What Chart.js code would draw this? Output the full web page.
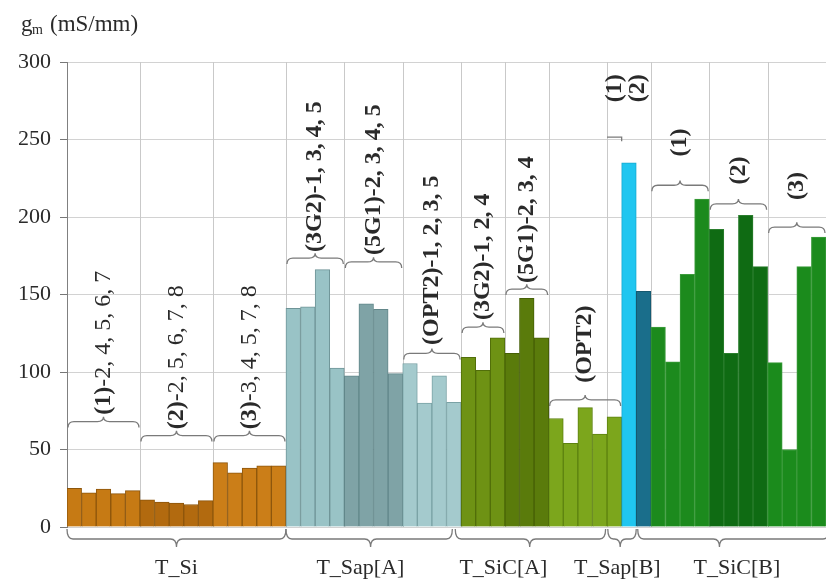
<!DOCTYPE html>
<html lang="en">
<head>
<meta charset="UTF-8">
<title>gm by substrate</title>
<script src="https://cdn.jsdelivr.net/npm/chart.js"></script>
<style>
  html, body { margin: 0; padding: 0; background: #fff; }
  .wrap { width: 826px; height: 587px; position: relative; }
</style>
</head>
<body>
<div class="wrap"><canvas id="gmChart"></canvas></div>
<script>
// measured gm per device, left to right, one array per substrate
const siValues   = [25, 22, 24.5, 21.5, 23.5, 17.5, 16, 15.5, 14.5, 17, 41.5, 35, 38, 39.5, 39.5];
const sapAValues = [141, 142, 166, 102.5, 97.5, 144, 140.5, 99, 105.5, 80, 97.5, 80.5];
const sicAValues = [109.5, 101, 122, 112, 147.5, 122, 70, 54, 77, 60, 71];
const sapBValues = [235, 152];
const sicBValues = [129, 106.5, 163, 211.5, 192, 112, 201, 168, 106, 50, 168, 187];

const groupNames = ['T_Si', 'T_Sap[A]', 'T_SiC[A]', 'T_Sap[B]', 'T_SiC[B]'];
const yTicks = [0, 50, 100, 150, 200, 250, 300];

// subgroup captions: bold prefix + device list
const subLabels = [
  ['(1)', '-2, 4, 5, 6, 7'], ['(2)', '-2, 5, 6, 7, 8'], ['(3)', '-3, 4, 5, 7, 8'],
  ['(3G2)', '-1, 3, 4, 5'], ['(5G1)', '-2, 3, 4, 5'], ['(OPT2)', '-1, 2, 3, 5'],
  ['(3G2)', '-1, 2, 4'], ['(5G1)', '-2, 3, 4'], ['(OPT2)', ''],
  ['(1)', ''], ['(2)', ''],
  ['(1)', ''], ['(2)', ''], ['(3)', '']
];

// device tags for the category axis
const subDevices = [
  [2, 4, 5, 6, 7], [2, 5, 6, 7, 8], [3, 4, 5, 7, 8],
  [1, 3, 4, 5], [2, 3, 4, 5], [1, 2, 3, 5],
  [1, 2, 4], [2, 3, 4], [1, 2, 3, 4, 5],
  [1], [1],
  [1, 2, 3, 4], [1, 2, 3, 4], [1, 2, 3, 4]
];
const subGroupOf = [0, 0, 0, 1, 1, 1, 2, 2, 2, 3, 3, 4, 4, 4];

// layout of braces/captions: x in bar-index units, y in mS/mm
const subLayout = [
  { from: 0,  to: 5,  brace: 68,    text: 72.5,  cx: 2.5 },
  { from: 5,  to: 10, brace: 59,    text: 63,    cx: 7.5 },
  { from: 10, to: 15, brace: 59,    text: 63,    cx: 12.5 },
  { from: 15, to: 19, brace: 173.5, text: 177.5, cx: 17 },
  { from: 19, to: 23, brace: 171,   text: 175.5, cx: 21 },
  { from: 23, to: 27, brace: 112,   text: 117.5, cx: 25 },
  { from: 27, to: 30, brace: 129,   text: 133.5, cx: 28.5 },
  { from: 30, to: 33, brace: 153.5, text: 157.5, cx: 31.5 },
  { from: 33, to: 38, brace: 82,    text: 93,    cx: 35.5 },
  { from: 37, to: 38, brace: 251.5, text: 274,   cx: 37.5, half: true },
  { from: 37, to: 38, brace: null,  text: 274,   cx: 39.1 },
  { from: 40, to: 44, brace: 220.5, text: 239,   cx: 42 },
  { from: 44, to: 48, brace: 208.5, text: 221,   cx: 46 },
  { from: 48, to: 52, brace: 193.5, text: 211,   cx: 50 }
];
const groupLayout = [
  { from: 0,    to: 15,   tip: 7.5,  cx: 7.5 },
  { from: 15,   to: 26.4, tip: 20.8, cx: 20.1 },
  { from: 26.6, to: 36.9, tip: 31.7, cx: 29.9 },
  { from: 37.05, to: 39,  tip: 37.9, cx: 37.7 },
  { from: 39.1, to: 52.2, tip: 44.7, cx: 45.9 }
];
const separators = [5, 10, 15, 19, 23, 27, 30, 33, 37, 40, 44, 48];

const subFill = [
  '#c67a14', '#b26a0f', '#cb7e18',
  '#99c3c6', '#7fa3a6', '#a4cacd',
  '#6e9214', '#5a7b0b', '#7ca61c',
  '#20c6f0', '#1a6e8b',
  '#1c8a1d', '#0f6b13', '#1b8b1c'
];
const subEdge = [
  '#8d560c', '#8d560c', '#8d560c',
  '#6f9497', '#62878a', '#7aa2a5',
  '#516e0a', '#465f06', '#5d8210',
  '#17a8cf', '#15586f',
  '#3d9c3d', '#2b7e2e', '#3d9c3d'
];

const values = [].concat(siValues, sapAValues, sicAValues, sapBValues, sicBValues);
const categories = [], fills = [], edges = [];
subDevices.forEach((devs, s) => {
  devs.forEach(d => {
    categories.push(groupNames[subGroupOf[s]] + subLabels[s][0] + d);
    fills.push(subFill[s]);
    edges.push(subEdge[s]);
  });
});

const SERIF = '"Liberation Serif", "DejaVu Serif", serif';
const INK = '#2a2a2a';

function brace(ctx, x1, x2, xm, y, h, dir) {
  // dir = 1: ends bend down, tip points up
  const r = Math.min(6, (x2 - x1) / 5);
  ctx.beginPath();
  ctx.moveTo(x1, y + dir * h);
  ctx.quadraticCurveTo(x1, y, x1 + r, y);
  ctx.lineTo(xm - r, y);
  ctx.quadraticCurveTo(xm, y, xm, y - dir * h * 0.8);
  ctx.quadraticCurveTo(xm, y, xm + r, y);
  ctx.lineTo(x2 - r, y);
  ctx.quadraticCurveTo(x2, y, x2, y + dir * h);
  ctx.stroke();
}

const decorations = {
  id: 'decorations',
  beforeDatasetsDraw(chart) {
    const { ctx, chartArea, scales: { x } } = chart;
    ctx.save();
    ctx.strokeStyle = '#c9c9c9';
    ctx.lineWidth = 1;
    separators.forEach(b => {
      const px = Math.round(x.getPixelForValue(b - 0.5)) + 0.5;
      ctx.beginPath();
      ctx.moveTo(px, chartArea.top);
      ctx.lineTo(px, chartArea.bottom);
      ctx.stroke();
    });
    ctx.restore();
  },
  afterDatasetsDraw(chart) {
    const { ctx, chartArea, scales: { x, y } } = chart;
    const edge = b => x.getPixelForValue(b - 0.5);
    ctx.save();
    ctx.strokeStyle = '#7a7a7a';
    ctx.lineWidth = 1.3;
    ctx.fillStyle = INK;

    // subgroup braces and rotated captions
    subLayout.forEach((L, i) => {
      if (L.brace !== null) {
        const py = y.getPixelForValue(L.brace);
        if (L.half) {
          ctx.beginPath();
          ctx.moveTo(edge(L.from), py);
          ctx.lineTo(edge(L.to), py);
          ctx.lineTo(edge(L.to), py + 4);
          ctx.stroke();
        } else {
          brace(ctx, edge(L.from) + 1, edge(L.to) - 1,
                x.getPixelForValue(L.cx - 0.5), py, 6, 1);
        }
      }
      const [bold, rest] = subLabels[i];
      ctx.save();
      ctx.translate(x.getPixelForValue(L.cx - 0.5), y.getPixelForValue(L.text));
      ctx.rotate(-Math.PI / 2);
      ctx.textAlign = 'left';
      ctx.textBaseline = 'middle';
      ctx.font = 'bold 24px ' + SERIF;
      ctx.fillText(bold, 0, 0);
      const w = ctx.measureText(bold).width;
      // T_Si device lists are set in regular weight
      ctx.font = (subGroupOf[i] === 0 ? '' : 'bold ') + '24px ' + SERIF;
      ctx.fillText(rest, w, 0);
      ctx.restore();
    });

    // substrate braces under the axis
    const base = chartArea.bottom;
    groupLayout.forEach((G, i) => {
      brace(ctx, edge(G.from), edge(G.to), edge(G.tip), base + 12, 10, -1);
      ctx.font = '22px ' + SERIF;
      ctx.textAlign = 'center';
      ctx.textBaseline = 'alphabetic';
      ctx.fillText(groupNames[i], edge(G.cx), base + 47);
    });

    // axis title g_m (mS/mm)
    ctx.textAlign = 'left';
    ctx.font = '23px ' + SERIF;
    ctx.fillText('g', 21, 31);
    ctx.font = '14px ' + SERIF;
    ctx.fillText('m', 32, 34);
    ctx.font = '23px ' + SERIF;
    ctx.fillText('(mS/mm)', 50, 31);
    ctx.restore();
  }
};

new Chart(document.getElementById('gmChart'), {
  type: 'bar',
  data: {
    labels: categories,
    datasets: [{
      data: values,
      backgroundColor: fills,
      borderColor: edges,
      borderWidth: 1,
      barPercentage: 1,
      categoryPercentage: 1
    }]
  },
  options: {
    responsive: true,
    maintainAspectRatio: false,
    animation: false,
    layout: { padding: { top: 62, bottom: 60, left: 0, right: 0 } },
    plugins: { legend: { display: false }, tooltip: { enabled: false } },
    scales: {
      x: { display: false },
      y: {
        min: 0,
        max: 300,
        afterBuildTicks: s => { s.ticks = yTicks.map(v => ({ value: v })); },
        afterFit: s => { s.width = 67; },
        grid: { color: '#d2d2d2', tickColor: '#777', tickLength: 7 },
        border: { color: '#808080' },
        ticks: { color: INK, padding: 9, font: { family: SERIF, size: 22 } }
      }
    }
  },
  plugins: [decorations]
});
</script>
</body>
</html>
